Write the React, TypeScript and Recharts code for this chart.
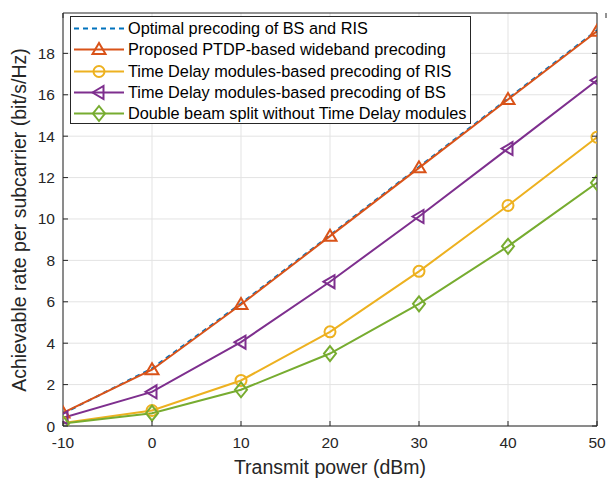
import React from 'react';
import { LineChart, Line, XAxis, YAxis, CartesianGrid, Legend } from 'recharts';

const powers = [-10, 0, 10, 20, 30, 40, 50];
const optimal = [0.6, 2.78, 5.92, 9.22, 12.52, 15.82, 19.12];
const proposed = [0.63, 2.72, 5.87, 9.17, 12.47, 15.77, 19.07];
const risDelay = [0.15, 0.75, 2.2, 4.55, 7.47, 10.65, 13.95];
const bsDelay = [0.4, 1.65, 4.05, 6.97, 10.12, 13.4, 16.7];
const doubleSplit = [0.12, 0.62, 1.75, 3.5, 5.9, 8.68, 11.75];

const xTicks = [-10, 0, 10, 20, 30, 40, 50];
const yTicks = [0, 2, 4, 6, 8, 10, 12, 14, 16, 18];

const FONT = '"Liberation Sans", Arial, Helvetica, sans-serif';
const INK = '#262626';

const series = [
  { key: 'optimal', name: 'Optimal precoding of BS and RIS', color: '#0072BD', marker: 'none', dash: '5 4' },
  { key: 'proposed', name: 'Proposed PTDP-based wideband precoding', color: '#D95319', marker: 'up' },
  { key: 'ris', name: 'Time Delay modules-based precoding of RIS', color: '#EDB120', marker: 'circle' },
  { key: 'bs', name: 'Time Delay modules-based precoding of BS', color: '#7E2F8E', marker: 'left' },
  { key: 'split', name: 'Double beam split without Time Delay modules', color: '#77AC30', marker: 'diamond' },
];

const data = powers.map((p, i) => ({
  power: p,
  optimal: optimal[i],
  proposed: proposed[i],
  ris: risDelay[i],
  bs: bsDelay[i],
  split: doubleSplit[i],
}));

const Marker = ({ cx, cy, kind, color }: any) => {
  const common = { fill: 'none', stroke: color, strokeWidth: 2 };
  if (kind === 'up')
    return <polygon points={`${cx},${cy - 6.5} ${cx - 6.5},${cy + 4.5} ${cx + 6.5},${cy + 4.5}`} {...common} />;
  if (kind === 'left')
    return <polygon points={`${cx - 6.5},${cy} ${cx + 4.5},${cy - 6.5} ${cx + 4.5},${cy + 6.5}`} {...common} />;
  if (kind === 'circle') return <circle cx={cx} cy={cy} r={5.5} {...common} />;
  if (kind === 'diamond')
    return <polygon points={`${cx},${cy - 7.5} ${cx + 6},${cy} ${cx},${cy + 7.5} ${cx - 6},${cy}`} {...common} />;
  return null;
};

const BottomTick = ({ x, y, payload }: any) => (
  <g>
    <line x1={x} y1={y} x2={x} y2={y - 5} stroke={INK} />
    <text x={x} y={y + 22} textAnchor="middle" fontSize={15.5} fill={INK} fontFamily={FONT}>
      {payload.value}
    </text>
  </g>
);

const TopTick = ({ x, y }: any) => <line x1={x} y1={y} x2={x} y2={y + 5} stroke={INK} />;

const LeftTick = ({ x, y, payload }: any) => (
  <g>
    <line x1={x} y1={y} x2={x + 5} y2={y} stroke={INK} />
    <text x={x - 8} y={y + 5.5} textAnchor="end" fontSize={15.5} fill={INK} fontFamily={FONT}>
      {payload.value}
    </text>
  </g>
);

const RightTick = ({ x, y }: any) => <line x1={x} y1={y} x2={x - 5} y2={y} stroke={INK} />;

const LegendBox = () => (
  <div
    style={{
      position: 'absolute',
      left: 70,
      top: 16,
      width: 399,
      height: 106,
      border: `1px solid ${INK}`,
      background: '#fff',
      fontFamily: FONT,
      fontSize: 16.3,
      color: '#000',
    }}
  >
    {series.map((s, i) => (
      <div key={s.key} style={{ position: 'absolute', left: 0, top: 1 + i * 21.3, height: 21, display: 'flex', alignItems: 'center' }}>
        <svg width={56} height={21}>
          <line x1={3} y1={10.5} x2={53} y2={10.5} stroke={s.color} strokeWidth={2} strokeDasharray={s.dash} />
          <Marker cx={28} cy={10.5} kind={s.marker} color={s.color} />
        </svg>
        <span style={{ marginLeft: 1, whiteSpace: 'nowrap' }}>{s.name}</span>
      </div>
    ))}
  </div>
);

export default function App() {
  return (
    <div style={{ position: 'absolute', left: 0, top: 0, width: 614, height: 482, background: '#fff' }}>
      <LineChart width={614} height={482} data={data} margin={{ top: 12, right: 16, bottom: 26, left: 23 }}>
        <CartesianGrid stroke="#e3e3e3" strokeWidth={1} horizontalValues={yTicks} verticalValues={xTicks} />
        <XAxis
          dataKey="power"
          type="number"
          domain={[-10, 50]}
          ticks={xTicks}
          height={30}
          tickSize={0}
          tickMargin={0}
          tick={<BottomTick />}
          axisLine={{ stroke: INK }}
          allowDataOverflow
        />
        <XAxis
          xAxisId="top"
          orientation="top"
          type="number"
          domain={[-10, 50]}
          ticks={xTicks}
          height={1}
          tickSize={0}
          tickMargin={0}
          tick={<TopTick />}
          axisLine={{ stroke: INK }}
          allowDataOverflow
        />
        <YAxis
          type="number"
          domain={[0, 19.95]}
          ticks={yTicks}
          width={40}
          tickSize={0}
          tickMargin={0}
          tick={<LeftTick />}
          axisLine={{ stroke: INK }}
          allowDataOverflow
        />
        <YAxis
          yAxisId="right"
          orientation="right"
          type="number"
          domain={[0, 19.95]}
          ticks={yTicks}
          width={1}
          tickSize={0}
          tickMargin={0}
          tick={<RightTick />}
          axisLine={{ stroke: INK }}
          allowDataOverflow
        />
        {series.map((s) => (
          <Line
            key={s.key}
            dataKey={s.key}
            name={s.name}
            type="linear"
            stroke={s.color}
            strokeWidth={2}
            strokeDasharray={s.dash}
            isAnimationActive={false}
            dot={(p: any) => <Marker key={`${s.key}-${p.index}`} cx={p.cx} cy={p.cy} kind={s.marker} color={s.color} />}
            activeDot={false}
          />
        ))}
        <Legend content={() => null} />
      </LineChart>
      <LegendBox />
      <div
        style={{
          position: 'absolute',
          left: 180,
          width: 300,
          top: 456,
          textAlign: 'center',
          fontFamily: FONT,
          fontSize: 19.5,
          color: INK,
          whiteSpace: 'nowrap',
        }}
      >
        Transmit power (dBm)
      </div>
      <div
        style={{
          position: 'absolute',
          left: 19,
          top: 220,
          transform: 'translate(-50%, -50%) rotate(-90deg)',
          fontFamily: FONT,
          fontSize: 19.5,
          color: INK,
          whiteSpace: 'nowrap',
        }}
      >
        Achievable rate per subcarrier (bit/s/Hz)
      </div>
    </div>
  );
}
